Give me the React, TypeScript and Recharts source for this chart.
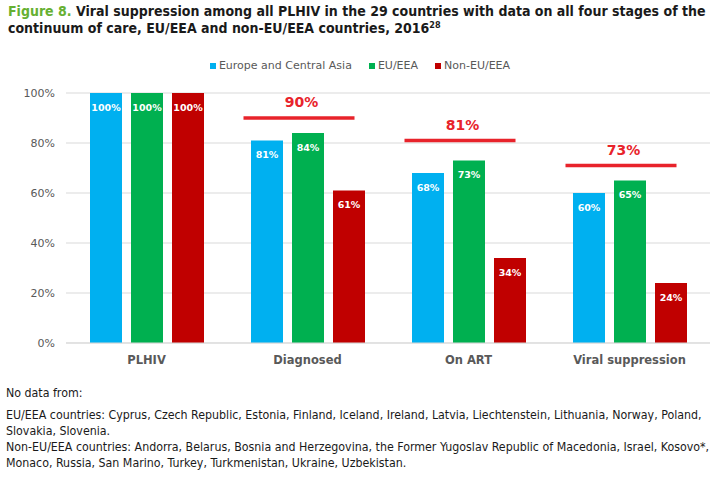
import React from "react";
import {
  ComposedChart,
  Bar,
  Scatter,
  XAxis,
  YAxis,
  CartesianGrid,
  Legend,
  LabelList,
} from "recharts";

// ── Data ───────────────────────────────────────────────────────────────────

const STAGES = ["PLHIV", "Diagnosed", "On ART", "Viral suppression"];
const EUROPE_CA = [100, 81, 68, 60];
const EU_EEA = [100, 84, 73, 65];
const NON_EU_EEA = [100, 61, 34, 24];
const TARGET_LEVEL = [null, 90, 81, 71];
const TARGET_LABEL = ["", "90%", "81%", "73%"];
const Y_TICKS = [0, 20, 40, 60, 80, 100];

const FOOTNOTES = [
  "EU/EEA countries: Cyprus, Czech Republic, Estonia, Finland, Iceland, Ireland, Latvia, Liechtenstein, Lithuania, Norway, Poland,",
  "Slovakia, Slovenia.",
  "Non-EU/EEA countries: Andorra, Belarus, Bosnia and Herzegovina, the Former Yugoslav Republic of Macedonia, Israel, Kosovo*,",
  "Monaco, Russia, San Marino, Turkey, Turkmenistan, Ukraine, Uzbekistan.",
];

const data = STAGES.map((stage, i) => ({
  stage,
  eca: EUROPE_CA[i],
  eu: EU_EEA[i],
  nonEu: NON_EU_EEA[i],
  target: TARGET_LEVEL[i],
  targetLabel: TARGET_LABEL[i],
}));

// ── Styling ────────────────────────────────────────────────────────────────

const BLUE = "#00b0f0";
const GREEN = "#00b050";
const DARK_RED = "#c00000";
const TARGET_RED = "#e8232b";
const GREY = "#595959";
const CHART_FONT = "'DejaVu Sans', Verdana, sans-serif";
const NOTE_FONT = "'DejaVu Sans Condensed', 'DejaVu Sans', sans-serif";

const SERIES = [
  { key: "eca", name: "Europe and Central Asia", color: BLUE },
  { key: "eu", name: "EU/EEA", color: GREEN },
  { key: "nonEu", name: "Non-EU/EEA", color: DARK_RED },
];

const pct = (v: number) => `${v}%`;

// horizontal target bar + label, positioned by the chart's own scales
function TargetShape(props: any) {
  const { cx, cy, payload } = props;
  if (payload.target == null || cy == null) return null;
  return (
    <g>
      <line x1={cx - 64} x2={cx + 47} y1={cy} y2={cy} stroke={TARGET_RED} strokeWidth={3.5} />
      <text
        x={cx - 6}
        y={cy - 11}
        textAnchor="middle"
        fill={TARGET_RED}
        fontFamily={CHART_FONT}
        fontWeight="bold"
        fontSize={14}
      >
        {payload.targetLabel}
      </text>
    </g>
  );
}

// legend in fixed series order (recharts sorts by name otherwise)
function LegendContent() {
  return (
    <div style={{ display: "flex", justifyContent: "center", gap: 17, fontFamily: CHART_FONT, fontSize: 11, color: GREY }}>
      {SERIES.map((s) => (
        <span key={s.key} style={{ display: "inline-flex", alignItems: "center", gap: 3 }}>
          <span style={{ width: 6, height: 6, background: s.color, display: "inline-block" }} />
          {s.name}
        </span>
      ))}
    </div>
  );
}

const barLabel = {
  position: "insideTop" as const,
  offset: 11,
  fill: "#ffffff",
  fontSize: 9.5,
  fontWeight: "bold",
  fontFamily: CHART_FONT,
  formatter: pct,
};

export default function App() {
  return (
    <div style={{ position: "relative", width: 720, height: 477, background: "#fff", overflow: "hidden" }}>
      <style>{`body{margin:0}`}</style>
      <div
        style={{
          position: "absolute",
          left: 8,
          top: 3,
          width: 712,
          fontFamily: NOTE_FONT,
          fontWeight: "bold",
          fontSize: 14,
          lineHeight: "17px",
          color: "#1a1a1a",
          whiteSpace: "nowrap",
        }}
      >
        <div>
          <span style={{ color: "#66b032" }}>Figure 8.</span> Viral suppression among all PLHIV in the 29 countries
          with data on all four stages of the
        </div>
        <div>
          continuum of care, EU/EEA and non-EU/EEA countries, 2016
          <sup style={{ fontSize: 9, verticalAlign: "top", lineHeight: "10px" }}>28</sup>
        </div>
      </div>

      <div style={{ position: "absolute", left: 0, top: 50 }}>
        <ComposedChart
          width={720}
          height={320}
          data={data}
          margin={{ top: 30, right: 10, left: 6, bottom: 0 }}
          barGap={9}
        >
          <CartesianGrid vertical={false} stroke="#d9d9d9" />
          <XAxis
            dataKey="stage"
            axisLine={{ stroke: "#d9d9d9" }}
            tickLine={false}
            tick={{ fill: GREY, fontSize: 11.5, fontWeight: "bold", fontFamily: CHART_FONT }}
            tickMargin={7}
            height={27}
          />
          <YAxis
            domain={[0, 100]}
            ticks={Y_TICKS}
            tickFormatter={pct}
            axisLine={false}
            tickLine={false}
            tick={{ fill: GREY, fontSize: 11, fontFamily: CHART_FONT }}
            tickMargin={5}
            width={60}
          />
          <Legend
            verticalAlign="top"
            content={<LegendContent />}
            wrapperStyle={{ top: 9, left: 0, width: 720 }}
          />
          {SERIES.map((s) => (
            <Bar
              key={s.key}
              dataKey={s.key}
              name={s.name}
              fill={s.color}
              barSize={32}
              isAnimationActive={false}
            >
              <LabelList dataKey={s.key} {...barLabel} />
            </Bar>
          ))}
          <Scatter dataKey="target" legendType="none" shape={TargetShape} isAnimationActive={false} />
        </ComposedChart>
      </div>

      <div
        style={{
          position: "absolute",
          left: 6,
          top: 385,
          fontFamily: NOTE_FONT,
          fontSize: 12.3,
          lineHeight: "16px",
          color: "#1a1a1a",
          whiteSpace: "nowrap",
        }}
      >
        <div style={{ marginBottom: 6 }}>No data from:</div>
        {FOOTNOTES.map((line, i) => (
          <div key={i}>{line}</div>
        ))}
      </div>
    </div>
  );
}
